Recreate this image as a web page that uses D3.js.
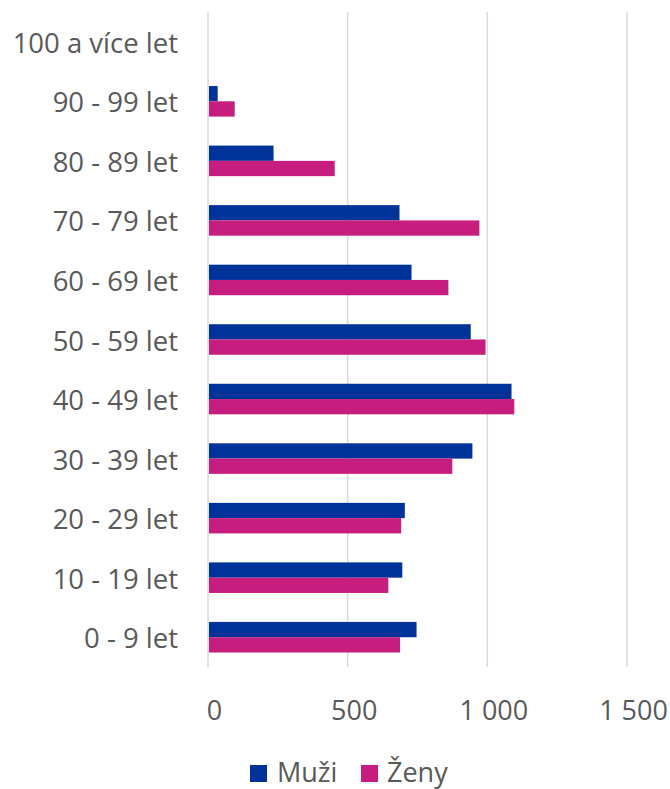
<!DOCTYPE html>
<html>
<head>
<meta charset="utf-8">
<script src="https://cdn.jsdelivr.net/npm/d3@7"></script>
<style>
  body { margin:0; background:#fff; }
  svg text { font-family:"Open Sans", "Noto Sans", sans-serif; fill:#595959; }
</style>
</head>
<body>
<svg id="chart"></svg>
<script>
// age groups, bottom to top as in the picture
var categories=["0 - 9 let","10 - 19 let","20 - 29 let","30 - 39 let","40 - 49 let","50 - 59 let","60 - 69 let","70 - 79 let","80 - 89 let","90 - 99 let","100 a více let"];
var muzi=[743,692,701,943,1083,937,725,682,231,31,0];
var zeny=[684,642,688,871,1093,990,857,968,450,92,0];
var series=["Muži","Ženy"];
var colors=["#003399","#c71d7e"];
var xticks=[0,500,1000,1500];

var W=670, H=789;
var pad_left=208, pad_right=43, pad_top=12, pad_bottom=122;

var svg=d3.select("#chart").attr("width",W).attr("height",H);
var gg=svg.append("g");

var xscale=d3.scaleLinear().domain([0,1500]).range([pad_left,W-pad_right]);
// top category first in the domain, so the list order runs bottom -> top
var yscale=d3.scaleBand().domain(categories.slice().reverse()).range([pad_top,H-pad_bottom]).paddingInner(0.487).paddingOuter(0.2435);
var inner=d3.scaleBand().domain(series).range([0,yscale.bandwidth()]);

// grid
gg.append("g").selectAll("line").data(xticks).enter().append("line")
  .attr("x1",function(d){return xscale(d);}).attr("x2",function(d){return xscale(d);})
  .attr("y1",pad_top).attr("y2",H-pad_bottom)
  .attr("stroke","#d9d9d9").attr("stroke-width",1.5);

// x axis labels
var fmt=function(d){return d3.format(",")(d).replace(/,/g," ");};
var xaxis=d3.axisBottom(xscale).tickValues(xticks).tickFormat(fmt).tickSize(0).tickPadding(0);
var X=gg.append("g").attr("transform","translate(6,"+(H-pad_bottom)+")").call(xaxis);
X.select(".domain").remove();
X.selectAll("text").attr("font-size","27px").attr("fill","#595959").attr("y",53).attr("dy",0);

// y axis labels
var yaxis=d3.axisLeft(yscale).tickSize(0).tickPadding(0);
var Y=gg.append("g").attr("transform","translate(178,0)").call(yaxis);
Y.select(".domain").remove();
Y.selectAll("text").attr("font-size","27.5px").attr("fill","#595959").attr("dy","0.4em");

// bars
var rows=categories.map(function(c,i){return {cat:c,vals:[muzi[i],zeny[i]]};});
var groups=gg.append("g").selectAll("g").data(rows).enter().append("g")
  .attr("transform",function(d){return "translate(0,"+yscale(d.cat)+")";});
groups.selectAll("rect").data(function(d){return d.vals.map(function(v,j){return {s:series[j],v:v,j:j};});})
  .enter().append("rect")
  .attr("x",xscale(0)+1)
  .attr("y",function(d){return inner(d.s);})
  .attr("width",function(d){return Math.max(0,xscale(d.v)-xscale(0));})
  .attr("height",inner.bandwidth())
  .attr("fill",function(d){return colors[d.j];});

// legend
var lg=svg.append("g").attr("transform","translate(250,765)");
var items=[{x:0,tx:27},{x:111,tx:137}];
series.forEach(function(s,i){
  lg.append("rect").attr("x",items[i].x).attr("y",0).attr("width",17).attr("height",17).attr("fill",colors[i]);
  lg.append("text").attr("x",items[i].tx).attr("y",17).attr("font-size","27px").text(s);
});
</script>
</body>
</html>
